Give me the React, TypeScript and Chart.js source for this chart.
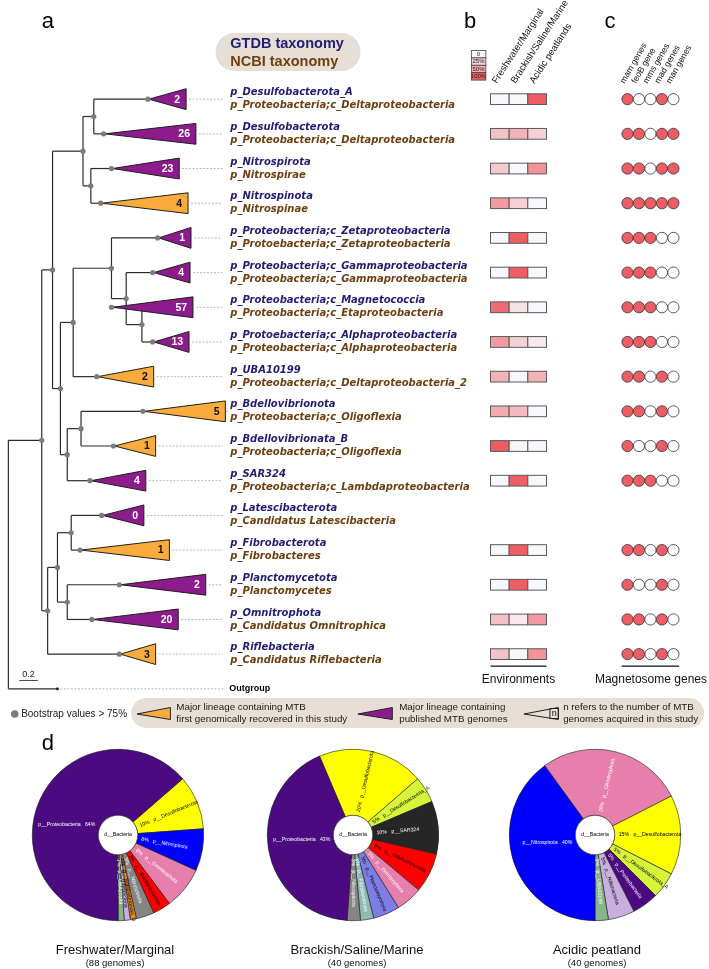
import React, { useEffect, useRef } from 'react';
import { Chart, registerables } from 'chart.js';
Chart.register(...registerables);

// ---------------- DATA ----------------
const gtdbNames = [
  'p_Desulfobacterota_A', 'p_Desulfobacterota', 'p_Nitrospirota', 'p_Nitrospinota',
  'p_Proteobacteria;c_Zetaproteobacteria', 'p_Proteobacteria;c_Gammaproteobacteria',
  'p_Proteobacteria;c_Magnetococcia', 'p_Protoebacteria;c_Alphaproteobacteria',
  'p_UBA10199', 'p_Bdellovibrionota', 'p_Bdellovibrionata_B', 'p_SAR324',
  'p_Latescibacterota', 'p_Fibrobacterota', 'p_Planctomycetota', 'p_Omnitrophota', 'p_Riflebacteria',
];
const ncbiNames = [
  'p_Proteobacteria;c_Deltaproteobacteria', 'p_Proteobacteria;c_Deltaproteobacteria', 'p_Nitrospirae', 'p_Nitrospinae',
  'p_Protoebacteria;c_Zetaproteobacteria', 'p_Proteobacteria;c_Gammaproteobacteria',
  'p_Proteobacteria;c_Etaproteobacteria', 'p_Proteobacteria;c_Alphaproteobacteria',
  'p_Proteobacteria;c_Deltaproteobacteria_2', 'p_Proteobacteria;c_Oligoflexia', 'p_Proteobacteria;c_Oligoflexia',
  'p_Proteobacteria;c_Lambdaproteobacteria', 'p_Candidatus Latescibacteria', 'p_Fibrobacteres',
  'p_Planctomycetes', 'p_Candidatus Omnitrophica', 'p_Candidatus Riflebacteria',
];
const genomeCounts = [2, 26, 23, 4, 1, 4, 57, 13, 2, 5, 1, 4, 0, 1, 2, 20, 3];
const isNewLineage = [0, 0, 0, 1, 0, 0, 0, 0, 1, 1, 1, 0, 0, 1, 0, 0, 1];
// collapsed clade: depth of clade root (tip of triangle) and depth of the clade's far edge
const cladeRootDepth = [145, 100, 108, 97, 155, 150, 108, 150, 93, 140, 110, 86, 98, 76, 116, 88, 116];
const cladeEdgeDepth = [183, 193, 176, 185, 188, 187, 190, 186, 150, 223, 152, 142, 140, 166, 203, 175, 152];
const outgroupDepth = 52;
// internal nodes (children listed before parents); leaf 17 = outgroup
const nodeIds = ['A', 'B', 'C', 'D', 'E', 'F', 'G', 'H', 'I', 'J', 'K', 'L', 'M', 'N', 'O', 'P', 'R'];
const nodeDepth = [89, 86, 78, 138, 122, 107, 68, 76, 62, 55, 47, 66, 62, 52, 42, 36, 2];
const nodeChildren: (number | string)[][] = [
  [0, 1], [2, 3], ['A', 'B'], [6, 7], [5, 'D'], [4, 'E'], ['F', 8], [9, 10], ['H', 11],
  ['G', 'I'], ['C', 'J'], [12, 13], [14, 15], ['L', 'M'], ['N', 16], ['K', 'O'], ['P', 17],
];

const envNames = ['Freshwater/Marginal', 'Brackish/Saline/Marine', 'Acidic peatlands'];
const envFreshwater = [0, 0.35, 0.3, 0.6, 0, 0, 0.9, 0.6, 0.45, 0.5, 1, 0, null, 0, 0, 0.35, 0.35];
const envBrackish = [0, 0.45, 0, 0.25, 1, 1, 0.15, 0.25, 0, 0.4, 0, 1, null, 1, 1, 0.1, 0];
const envAcidic = [1, 0.25, 0.65, 0, 0, 0, 0, 0.1, 0.45, 0, 0, 0, null, 0, 0, 0.6, 0.65];
const envLegendLevels = [0, 0.25, 0.5, 1];
const envLegendLabels = ['0', '25%', '50%', '100%'];

const geneNames = ['mam genes', 'feoB gene', 'mms genes', 'mad genes', 'man genes'];
const geneMam = [1, 1, 1, 1, 1, 1, 1, 1, 1, 1, 1, 1, null, 1, 1, 1, 1];
const geneFeoB = [0, 1, 1, 1, 1, 1, 1, 1, 1, 1, 0, 1, null, 1, 0, 1, 1];
const geneMms = [0, 0, 0, 1, 1, 1, 1, 1, 0, 0, 0, 1, null, 0, 0, 0, 0];
const geneMad = [1, 1, 1, 1, 0, 0, 0, 0, 1, 1, 1, 0, null, 1, 1, 1, 1];
const geneMan = [0, 1, 1, 1, 0, 0, 0, 0, 0, 0, 0, 0, null, 0, 0, 0, 0];

const freshPhyla = ['p__Desulfobacterota', 'p__Nitrospirota', 'p__Omnitrophota', 'p__Bdellovibrionota', 'p__Nitrospinota', 'p__Bdellovibrionota_B', 'p__Riflebacteria', 'p__UBA10199', 'p__Proteobacteria'];
const freshCounts = [9, 7, 7, 3, 3, 1, 1, 1, 56];
const brackishPhyla = ['p__Desulfobacterota', 'p__Desulfobacterota_A', 'p__SAR324', 'p__Bdellovibrionota', 'p__Omnitrophota', 'p__Planctomycetota', 'p__Fibrobacterota', 'p__Nitrospinota', 'p__Proteobacteria'];
const brackishCounts = [8, 2, 4, 3, 2, 2, 1, 1, 17];
const acidicPhyla = ['p__Omnitrophota', 'p__Desulfobacterota', 'p__Desulfobacterota_A', 'p__Proteobacteria', 'p__Riflebacteria', 'p__UBA10199', 'p__Nitrospirota'];
const acidicCounts = [11, 6, 2, 2, 2, 1, 16];
const pieTitles = ['Freshwater/Marginal', 'Brackish/Saline/Marine', 'Acidic peatland'];

// ---------------- STYLE ----------------
const SANS = '"Liberation Sans", Arial, sans-serif';
const VERD = '"DejaVu Sans", Verdana, sans-serif';
const NAVY = '#221d72';
const BROWN = '#6e3f10';
const PURPLE = '#8c1c8c';
const ORANGE = '#f9ab3b';
const BEIGE = '#e7dfd5';
const RED = [237, 93, 99];
const WHITE = [248, 248, 252];
const ROW0 = 94;
const ROWPX = 35.15;

const phylumColor: Record<string, string> = {
  'p__Proteobacteria': '#4b0a80', 'p__Desulfobacterota': '#ffff00', 'p__Nitrospirota': '#0000ff',
  'p__Omnitrophota': '#e67fab', 'p__Bdellovibrionota': '#ff0000', 'p__Nitrospinota': '#858585',
  'p__Bdellovibrionota_B': '#f08a1c', 'p__Riflebacteria': '#c9aee0', 'p__UBA10199': '#88b48c',
  'p__SAR324': '#262626', 'p__Planctomycetota': '#7d7de3', 'p__Fibrobacterota': '#8fb9b5',
  'p__Desulfobacterota_A': '#d6f53a',
};
const lightText = new Set(['p__Proteobacteria', 'p__Nitrospirota', 'p__Omnitrophota', 'p__Nitrospinota', 'p__SAR324', 'p__Fibrobacterota', 'p__UBA10199']);

const heat = (t: number) => {
  const c = WHITE.map((w, i) => Math.round(w + (RED[i] - w) * t));
  return `rgb(${c[0]},${c[1]},${c[2]})`;
};

function rrect(ctx: CanvasRenderingContext2D, x: number, y: number, w: number, h: number, r: number) {
  ctx.beginPath();
  ctx.moveTo(x + r, y);
  ctx.lineTo(x + w - r, y);
  ctx.arc(x + w - r, y + r, r, -Math.PI / 2, 0);
  ctx.lineTo(x + w, y + h - r);
  ctx.arc(x + w - r, y + h - r, r, 0, Math.PI / 2);
  ctx.lineTo(x + r, y + h);
  ctx.arc(x + r, y + h - r, r, Math.PI / 2, Math.PI);
  ctx.lineTo(x, y + r);
  ctx.arc(x + r, y + r, r, Math.PI, Math.PI * 1.5);
  ctx.closePath();
}

const pieCenters = [118, 353, 595];
const pieCenterY = 835;

const mainPlugin = {
  id: 'figure',
  beforeDatasetsDraw(chart: any) {
    const ctx: CanvasRenderingContext2D = chart.ctx;
    const sx = chart.scales.x, sy = chart.scales.y, se = chart.scales.xEnv, sg = chart.scales.xGene;
    const X = (v: number) => sx.getPixelForValue(v);
    const Y = (v: number) => sy.getPixelForValue(v);
    ctx.save();

    // panel letters
    ctx.fillStyle = '#000';
    ctx.textAlign = 'left';
    ctx.textBaseline = 'alphabetic';
    ctx.font = `22px ${SANS}`;
    ctx.fillText('a', X(36), 28);
    ctx.fillText('b', X(466), 28);
    ctx.fillText('c', X(609), 28);
    ctx.fillText('d', X(36), 750);

    // taxonomy header
    rrect(ctx, X(213), 33, 145, 38, 19);
    ctx.fillStyle = BEIGE;
    ctx.fill();
    ctx.font = `bold 14.5px ${SANS}`;
    ctx.textBaseline = 'middle';
    ctx.fillStyle = NAVY;
    ctx.fillText('GTDB taxonomy', X(228), 44);
    ctx.fillStyle = BROWN;
    ctx.fillText('NCBI taxonomy', X(228), 62);

    // tree layout
    const pos: Record<string, { x: number; y: number }> = {};
    cladeRootDepth.forEach((d, i) => (pos[String(i)] = { x: d, y: i }));
    pos['17'] = { x: outgroupDepth, y: 17 };
    nodeIds.forEach((id, k) => {
      const ys = nodeChildren[k].map((c) => pos[String(c)].y);
      pos[id] = { x: nodeDepth[k], y: (Math.min(...ys) + Math.max(...ys)) / 2 };
    });

    // leader lines
    ctx.strokeStyle = '#9a9a9a';
    ctx.lineWidth = 0.7;
    ctx.setLineDash([2, 1.5]);
    cladeEdgeDepth.forEach((d, i) => {
      ctx.beginPath();
      ctx.moveTo(X(d + 3), Y(i));
      ctx.lineTo(X(220), Y(i));
      ctx.stroke();
    });
    ctx.beginPath();
    ctx.moveTo(X(outgroupDepth + 3), Y(17));
    ctx.lineTo(X(223), Y(17));
    ctx.stroke();
    ctx.setLineDash([]);

    // branches
    ctx.strokeStyle = '#2b2b2b';
    ctx.lineWidth = 1.2;
    nodeIds.forEach((id, k) => {
      const p = pos[id];
      const kids = nodeChildren[k].map((c) => pos[String(c)]);
      const ys = kids.map((c) => c.y);
      ctx.beginPath();
      ctx.moveTo(X(p.x), Y(Math.min(...ys)));
      ctx.lineTo(X(p.x), Y(Math.max(...ys)));
      ctx.stroke();
      kids.forEach((c) => {
        ctx.beginPath();
        ctx.moveTo(X(p.x), Y(c.y));
        ctx.lineTo(X(c.x), Y(c.y));
        ctx.stroke();
      });
    });

    // collapsed clades
    cladeRootDepth.forEach((d, i) => {
      const e = cladeEdgeDepth[i];
      ctx.beginPath();
      ctx.moveTo(X(d), Y(i));
      ctx.lineTo(X(e), Y(i - 0.3));
      ctx.lineTo(X(e), Y(i + 0.3));
      ctx.closePath();
      ctx.fillStyle = isNewLineage[i] ? ORANGE : PURPLE;
      ctx.fill();
      ctx.strokeStyle = '#1e1e1e';
      ctx.lineWidth = 1;
      ctx.stroke();
      ctx.font = `bold 10.5px ${SANS}`;
      ctx.textAlign = 'right';
      ctx.textBaseline = 'middle';
      ctx.fillStyle = isNewLineage[i] ? '#111' : '#fff';
      ctx.fillText(String(genomeCounts[i]), X(e - 6), Y(i) + 0.5);
    });

    // bootstrap dots
    ctx.fillStyle = '#7b7b7b';
    const dot = (x: number, y: number) => {
      ctx.beginPath();
      ctx.arc(X(x), Y(y), 2.6, 0, Math.PI * 2);
      ctx.fill();
    };
    nodeIds.forEach((id) => { if (id !== 'R') dot(pos[id].x, pos[id].y); });
    cladeRootDepth.forEach((d, i) => dot(d - 1, i));
    ctx.fillStyle = '#222';
    ctx.beginPath();
    ctx.arc(X(outgroupDepth), Y(17), 1.5, 0, Math.PI * 2);
    ctx.fill();

    // taxonomy labels
    ctx.textAlign = 'left';
    ctx.textBaseline = 'middle';
    ctx.font = `bold italic 10px ${VERD}`;
    gtdbNames.forEach((n, i) => {
      ctx.fillStyle = NAVY;
      ctx.fillText(n, X(228), Y(i) - 6.5);
      ctx.fillStyle = BROWN;
      ctx.fillText(ncbiNames[i], X(228), Y(i) + 6.5);
    });
    ctx.fillStyle = '#000';
    ctx.font = `bold 9px ${SANS}`;
    ctx.fillText('Outgroup', X(227), Y(17));

    // scale bar
    ctx.font = `9px ${SANS}`;
    ctx.textAlign = 'center';
    ctx.textBaseline = 'alphabetic';
    ctx.fillStyle = '#222';
    ctx.fillText('0.2', X(22.5), 677);
    ctx.strokeStyle = '#222';
    ctx.lineWidth = 0.8;
    ctx.beginPath();
    ctx.moveTo(X(13), 680.5);
    ctx.lineTo(X(32), 680.5);
    ctx.stroke();

    // heatmap
    const envCols = [envFreshwater, envBrackish, envAcidic];
    const hh = 0.155;
    envCols.forEach((col, j) => {
      col.forEach((v, i) => {
        if (v === null) return;
        const x0 = se.getPixelForValue(j - 0.5), x1 = se.getPixelForValue(j + 0.5);
        const y0 = Y(i - hh), y1 = Y(i + hh);
        ctx.fillStyle = heat(v);
        ctx.fillRect(x0, y0, x1 - x0, y1 - y0);
        ctx.strokeStyle = '#5a5a5a';
        ctx.lineWidth = 1;
        ctx.strokeRect(x0, y0, x1 - x0, y1 - y0);
      });
    });
    // heatmap legend
    envLegendLevels.forEach((lv, k) => {
      const y0 = 50.5 + k * 7.4;
      ctx.fillStyle = heat(lv);
      ctx.fillRect(X(473.5), y0, 14.5, 7.4);
      ctx.strokeStyle = '#444';
      ctx.lineWidth = 0.8;
      ctx.strokeRect(X(473.5), y0, 14.5, 7.4);
      ctx.fillStyle = '#222';
      ctx.font = `6px ${SANS}`;
      ctx.textAlign = 'center';
      ctx.textBaseline = 'middle';
      ctx.fillText(envLegendLabels[k], X(480.75), y0 + 3.9);
    });
    // rotated headers
    ctx.fillStyle = '#111';
    ctx.textAlign = 'left';
    ctx.textBaseline = 'alphabetic';
    envNames.forEach((n, j) => {
      ctx.save();
      ctx.translate(se.getPixelForValue(j) - 3, 84);
      ctx.rotate(-57 * Math.PI / 180);
      ctx.font = `9.5px ${SANS}`;
      ctx.fillText(n, 0, 0);
      ctx.restore();
    });
    geneNames.forEach((n, j) => {
      ctx.save();
      ctx.translate(sg.getPixelForValue(j) - 3, 84);
      ctx.rotate(-60 * Math.PI / 180);
      ctx.font = `8.6px ${SANS}`;
      ctx.fillText(n, 0, 0);
      ctx.restore();
    });
    // underlines + captions
    const baseY = Y(16) + 12;
    ctx.strokeStyle = '#111';
    ctx.lineWidth = 1.2;
    ctx.beginPath();
    ctx.moveTo(se.getPixelForValue(-0.5), baseY);
    ctx.lineTo(se.getPixelForValue(2.5), baseY);
    ctx.moveTo(sg.getPixelForValue(-0.5), baseY);
    ctx.lineTo(sg.getPixelForValue(4.5), baseY);
    ctx.stroke();
    ctx.font = `12px ${SANS}`;
    ctx.textAlign = 'center';
    ctx.textBaseline = 'middle';
    ctx.fillStyle = '#111';
    ctx.fillText('Environments', se.getPixelForValue(1), baseY + 13.5);
    ctx.fillText('Magnetosome genes', sg.getPixelForValue(2) + 0.5, baseY + 13.5);

    // bottom legend
    ctx.fillStyle = '#7b7b7b';
    ctx.beginPath();
    ctx.arc(X(8.5), 714, 3.8, 0, Math.PI * 2);
    ctx.fill();
    ctx.fillStyle = '#222';
    ctx.font = `10px ${SANS}`;
    ctx.textAlign = 'left';
    ctx.fillText('Bootstrap values > 75%', X(15), 714);

    rrect(ctx, X(127), 698, 573, 30, 15);
    ctx.fillStyle = BEIGE;
    ctx.fill();
    const legTri = (x0: number, x1: number, fill: string | null) => {
      ctx.beginPath();
      ctx.moveTo(X(x0), 714);
      ctx.lineTo(X(x1), 707.5);
      ctx.lineTo(X(x1), 719.5);
      ctx.closePath();
      if (fill) { ctx.fillStyle = fill; ctx.fill(); }
      ctx.strokeStyle = '#222';
      ctx.lineWidth = 1;
      ctx.stroke();
    };
    legTri(133, 167, ORANGE);
    legTri(358, 393, PURPLE);
    legTri(527, 562, null);
    ctx.strokeRect(X(553.5), 708.5, 8.5, 10);
    ctx.fillStyle = '#111';
    ctx.font = `9px ${SANS}`;
    ctx.textAlign = 'center';
    ctx.fillText('n', X(557.8), 713.5);
    ctx.font = `9.8px ${SANS}`;
    ctx.textAlign = 'left';
    ctx.fillStyle = '#1a1a1a';
    ctx.fillText('Major lineage containing MTB', X(173), 707.5);
    ctx.fillText('first genomically recovered in this study', X(173), 719);
    ctx.fillText('Major lineage containing', X(400), 707.5);
    ctx.fillText('published MTB genomes', X(400), 719);
    ctx.fillText('n refers to the number of MTB', X(567), 707.5);
    ctx.fillText('genomes acquired in this study', X(567), 719);

    // pie titles
    const totals = [freshCounts, brackishCounts, acidicCounts].map((a) => a.reduce((s, v) => s + v, 0));
    const titleX = [115, 357, 597];
    pieTitles.forEach((t, k) => {
      ctx.fillStyle = '#111';
      ctx.font = `13px ${SANS}`;
      ctx.textAlign = 'center';
      ctx.fillText(t, titleX[k], 950);
      ctx.font = `9.5px ${SANS}`;
      ctx.fillText(`(${totals[k]} genomes)`, titleX[k], 963.5);
    });
    ctx.restore();
  },
};

const pieLabelPlugin = {
  id: 'pieLabels',
  afterDatasetsDraw(chart: any) {
    const ctx: CanvasRenderingContext2D = chart.ctx;
    const meta = chart.getDatasetMeta(0);
    const vals: number[] = chart.data.datasets[0].data;
    const names: string[] = chart.data.labels;
    const total = vals.reduce((s, v) => s + v, 0);
    ctx.save();
    let cx = 0, cy = 0, rin = 0;
    meta.data.forEach((arc: any, i: number) => {
      const p = arc.getProps(['x', 'y', 'startAngle', 'endAngle', 'innerRadius', 'outerRadius'], true);
      cx = p.x; cy = p.y; rin = p.innerRadius;
      const mid = (p.startAngle + p.endAngle) / 2;
      const pct = Math.round((100 * vals[i]) / total);
      const name = names[i];
      ctx.fillStyle = lightText.has(name) ? '#fff' : '#000';
      ctx.font = `5.2px ${SANS}`;
      ctx.textBaseline = 'middle';
      ctx.save();
      if (pct >= 35) {
        ctx.textAlign = 'right';
        ctx.fillText(`${name}   ${pct}%`, p.x - p.innerRadius - 3, p.y + Math.sin(mid) * 25);
      } else if (Math.cos(mid) >= 0) {
        ctx.translate(p.x, p.y);
        ctx.rotate(mid);
        ctx.textAlign = 'left';
        ctx.fillText(`${pct}%   ${name}`, p.innerRadius + 4, 0);
      } else {
        ctx.translate(p.x, p.y);
        ctx.rotate(mid + Math.PI);
        ctx.textAlign = 'right';
        ctx.fillText(`${name}   ${pct}%`, -(p.innerRadius + 4), 0);
      }
      ctx.restore();
    });
    ctx.beginPath();
    ctx.arc(cx, cy, rin, 0, Math.PI * 2);
    ctx.fillStyle = '#fff';
    ctx.fill();
    ctx.strokeStyle = '#222';
    ctx.lineWidth = 0.6;
    ctx.stroke();
    ctx.fillStyle = '#000';
    ctx.font = `5.2px ${SANS}`;
    ctx.textAlign = 'center';
    ctx.textBaseline = 'middle';
    ctx.fillText('d__Bacteria', cx, cy);
    ctx.restore();
  },
};

function makePie(canvas: HTMLCanvasElement, labels: string[], counts: number[], rotation: number) {
  return new Chart(canvas, {
    type: 'doughnut',
    data: {
      labels,
      datasets: [{
        data: counts,
        backgroundColor: labels.map((l) => phylumColor[l]),
        borderColor: '#1a1a1a',
        borderWidth: 0.6,
      }],
    },
    options: {
      responsive: false,
      animation: false,
      events: [],
      rotation,
      cutout: '23%',
      layout: { padding: 2 },
      plugins: { legend: { display: false }, tooltip: { enabled: false } },
    },
    plugins: [pieLabelPlugin],
  } as any);
}

export default function App() {
  const mainRef = useRef<HTMLCanvasElement>(null);
  const p1 = useRef<HTMLCanvasElement>(null);
  const p2 = useRef<HTMLCanvasElement>(null);
  const p3 = useRef<HTMLCanvasElement>(null);

  useEffect(() => {
    const geneCols = [geneMam, geneFeoB, geneMms, geneMad, geneMan];
    const points: { x: number; y: number }[] = [];
    const colors: string[] = [];
    geneCols.forEach((col, j) => col.forEach((v, i) => {
      if (v === null) return;
      points.push({ x: j, y: i });
      colors.push(v ? heat(1) : '#ffffff');
    }));
    const H = 969;
    const charts: Chart[] = [];
    charts.push(new Chart(mainRef.current!, {
      type: 'scatter',
      data: {
        datasets: [{
          xAxisID: 'xGene', yAxisID: 'y', data: points,
          backgroundColor: colors, borderColor: '#333', borderWidth: 0.8,
          pointRadius: 5.6, pointHoverRadius: 5.6,
        }],
      },
      options: {
        responsive: false, animation: false, events: [],
        layout: { padding: 0 },
        plugins: { legend: { display: false }, tooltip: { enabled: false } },
        scales: {
          x: { type: 'linear', min: 0, max: 709, display: false },
          xEnv: { type: 'linear', axis: 'x', min: -502.5 / 19, max: (709 - 502.5) / 19, display: false },
          xGene: { type: 'linear', axis: 'x', min: -632.5 / 11.7, max: (709 - 632.5) / 11.7, display: false },
          y: { type: 'linear', min: -ROW0 / ROWPX, max: (H - ROW0) / ROWPX, reverse: true, display: false },
        },
      },
      plugins: [mainPlugin],
    } as any));
    charts.push(makePie(p1.current!, freshPhyla, freshCounts, 49));
    charts.push(makePie(p2.current!, brackishPhyla, brackishCounts, -23));
    charts.push(makePie(p3.current!, acidicPhyla, acidicCounts, -36));
    return () => charts.forEach((c) => c.destroy());
  }, []);

  const pieStyle = (cx: number): React.CSSProperties => ({
    position: 'absolute', left: cx - 88, top: pieCenterY - 88, width: 176, height: 176,
  });

  return (
    <div style={{ position: 'absolute', left: 0, top: 0, width: 709, height: 969, background: '#fff', overflow: 'hidden' }}>
      <canvas ref={mainRef} width={709} height={969} style={{ position: 'absolute', left: 0, top: 0, width: 709, height: 969 }} />
      <canvas ref={p1} width={176} height={176} style={pieStyle(pieCenters[0])} />
      <canvas ref={p2} width={176} height={176} style={pieStyle(pieCenters[1])} />
      <canvas ref={p3} width={176} height={176} style={pieStyle(pieCenters[2])} />
    </div>
  );
}
